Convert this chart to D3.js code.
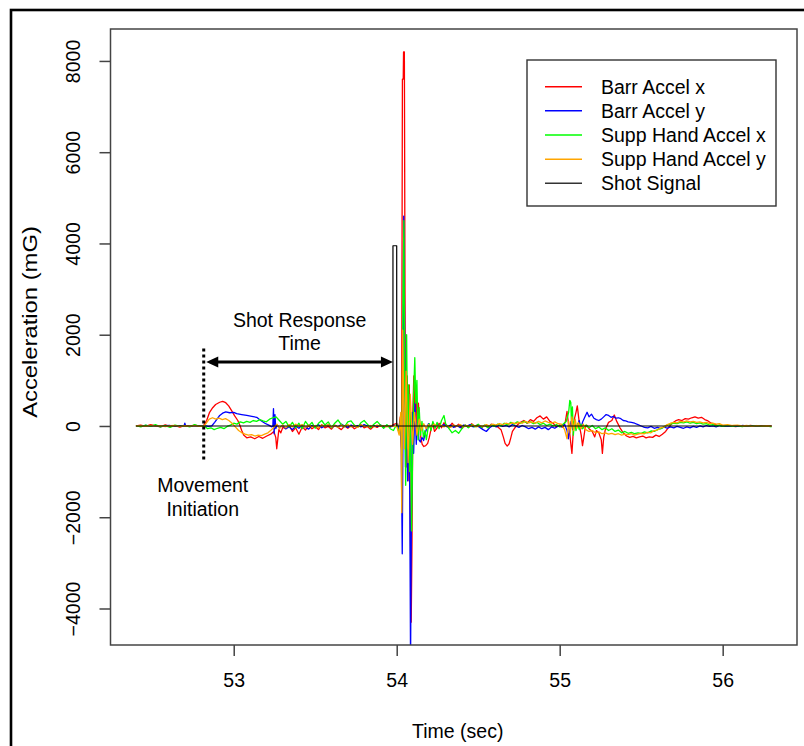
<!DOCTYPE html>
<html>
<head>
<meta charset="utf-8">
<script src="https://cdn.jsdelivr.net/npm/d3@7"></script>
<style>
  html, body { margin: 0; padding: 0; background: #fff; }
  svg { display: block; }
  text { font-family: "Liberation Sans", Arial, sans-serif; fill: #000; }
</style>
</head>
<body>
<svg id="chart" width="804" height="746"></svg>
<script>
// ---- Data: [time (sec), acceleration (mG)] ----
const barrAccelX = [
  [52.40,0],[52.43,20],[52.46,-10],[52.49,30],[52.52,0],[52.55,-20],[52.58,25],[52.61,-15],[52.64,10],[52.67,-25],[52.70,15],[52.73,-10],[52.76,20],[52.79,-5],[52.815,10],
  [52.834,120],[52.852,300],[52.871,400],[52.889,470],[52.914,520],[52.932,540],[52.951,510],[52.969,440],[52.988,330],[53.006,220],[53.025,120],[53.037,20],[53.049,-100],[53.061,-200],[53.080,-260],[53.104,-240],[53.129,-280],[53.154,-230],[53.178,-270],[53.203,-220],[53.227,-180],[53.246,-120],[53.258,-250],[53.264,-500],[53.270,-300],[53.277,-80],[53.289,-150],[53.301,-30],
  [53.32,-60],[53.34,20],[53.36,-120],[53.38,-40],[53.40,-180],[53.42,-20],[53.44,-90],[53.46,10],[53.48,-60],[53.50,-10],[53.52,-80],[53.54,30],[53.56,-40],[53.58,-10],[53.60,-70],[53.62,20],[53.64,-30],[53.66,-80],[53.68,0],[53.70,-50],[53.72,10],[53.74,-60],[53.76,-20],[53.78,30],[53.80,-40],[53.82,-10],[53.84,-70],[53.86,0],[53.88,-30],[53.90,20],[53.92,-40],[53.94,10],[53.96,-20],[53.98,30],[54.00,60],[54.012,-100],
  [54.022,200],[54.030,-500],[54.035,7600],[54.040,7600],[54.042,8200],[54.047,8200],[54.052,1500],[54.058,-900],[54.064,1100],[54.070,-1200],[54.077,900],[54.083,-1800],[54.089,-4300],[54.094,-2500],[54.099,300],[54.105,1100],[54.112,300],[54.119,800],[54.126,-200],[54.133,500],[54.140,100],[54.148,-250],[54.156,-400],[54.166,-450],[54.178,-430],[54.190,-380],[54.200,-250],[54.210,-80],[54.220,50],[54.232,-120],[54.245,-60],[54.26,60],[54.275,-40],[54.29,70],
  [54.30,30],[54.32,-40],[54.34,60],[54.36,-20],[54.38,40],[54.40,-50],[54.42,20],[54.44,-30],[54.46,50],[54.48,-10],[54.50,30],[54.52,-40],[54.54,10],[54.56,-30],[54.58,40],[54.60,0],[54.62,-20],[54.64,-80],[54.655,-250],[54.665,-380],[54.678,-440],[54.69,-390],[54.70,-260],[54.71,-120],[54.725,-40],[54.74,20],[54.76,80],[54.78,120],[54.80,60],[54.82,140],[54.84,100],[54.86,180],[54.88,220],[54.90,150],[54.92,200],[54.94,100],[54.96,60],[54.98,-20],
  [55.00,20],[55.02,-30],[55.035,100],[55.045,320],[55.052,100],[55.060,-100],[55.068,-380],[55.075,-600],[55.082,-200],[55.090,150],[55.100,300],[55.108,440],[55.116,200],[55.124,-50],[55.132,-200],[55.140,-430],[55.148,-250],[55.156,-50],[55.165,20],[55.18,-60],[55.20,-120],[55.215,-240],[55.225,-100],[55.24,-150],[55.255,-300],[55.262,-600],[55.270,-250],[55.28,-80],[55.30,80],[55.32,120],[55.335,240],[55.35,100],[55.37,-40],[55.39,-150],[55.41,-220],[55.43,-250],[55.45,-230],[55.47,-260],[55.49,-240],[55.51,-220],[55.53,-260],[55.55,-240],[55.57,-250],[55.59,-200],[55.61,-230],[55.63,-180],[55.65,-120],[55.67,-20],[55.69,60],[55.71,110],[55.73,140],[55.75,120],[55.77,160],[55.79,150],[55.81,180],[55.83,200],[55.85,170],[55.87,190],[55.89,140],[55.91,110],[55.93,60],[55.95,40],[55.97,10],[55.99,20],
  [56.01,-10],[56.03,10],[56.05,0],[56.08,-15],[56.11,10],[56.14,-10],[56.17,15],[56.20,-5],[56.23,10],[56.26,-10],[56.30,0]
];

const barrAccelY = [
  [52.40,0],[52.43,-10],[52.46,15],[52.49,-5],[52.52,10],[52.55,-15],[52.58,5],[52.61,10],[52.64,-10],[52.67,5],[52.695,0],[52.70,60],[52.705,0],[52.73,-10],[52.76,10],[52.79,-5],[52.82,5],[52.845,-10],[52.865,0],
  [52.883,80],[52.902,170],[52.914,230],[52.932,280],[52.951,310],[52.975,290],[53.000,300],[53.018,270],[53.049,250],[53.080,230],[53.111,210],[53.141,190],[53.166,120],[53.191,60],[53.215,20],[53.234,-20],[53.240,0],[53.244,380],[53.248,-170],[53.253,250],[53.258,-60],[53.265,20],
  [53.28,-40],[53.30,10],[53.32,-60],[53.34,-20],[53.36,-80],[53.38,0],[53.40,-50],[53.42,20],[53.44,-30],[53.46,-70],[53.48,10],[53.50,-20],[53.52,30],[53.54,-40],[53.56,0],[53.58,20],[53.60,-30],[53.62,10],[53.64,-20],[53.66,40],[53.68,0],[53.70,-30],[53.72,20],[53.74,-10],[53.76,10],[53.78,-20],[53.80,30],[53.82,0],[53.84,-20],[53.86,10],[53.88,-10],[53.90,20],[53.92,-10],[53.94,10],[53.96,-20],[53.98,0],[54.00,20],[54.012,-50],
  [54.020,100],[54.028,-500],[54.034,-2800],[54.038,-400],[54.043,4600],[54.048,2500],[54.054,-900],[54.060,500],[54.067,-1200],[54.074,700],[54.080,-1500],[54.085,-5200],[54.090,-2000],[54.096,300],[54.104,-600],[54.112,500],[54.120,-400],[54.128,200],[54.136,-300],[54.145,-350],[54.155,-250],[54.165,-320],[54.175,-150],[54.185,-50],[54.195,50],[54.205,-30],[54.22,20],[54.235,-20],[54.25,30],
  [54.27,-10],[54.29,30],[54.31,-20],[54.33,20],[54.35,-30],[54.37,10],[54.39,-40],[54.41,20],[54.43,-10],[54.45,30],[54.47,-20],[54.49,10],[54.51,-30],[54.53,-80],[54.55,-120],[54.57,-40],[54.59,10],[54.61,-20],[54.63,20],[54.65,-10],[54.67,10],[54.69,-20],[54.71,30],[54.73,0],[54.75,-30],[54.77,10],[54.79,-20],[54.81,-60],[54.83,-30],[54.85,-70],[54.87,-20],[54.89,-60],[54.91,-30],[54.93,-80],[54.95,-20],[54.97,-50],[54.99,0],
  [55.01,-20],[55.03,40],[55.045,-100],[55.053,-280],[55.06,-50],[55.07,100],[55.08,-80],[55.09,60],[55.10,-40],[55.11,20],[55.12,120],[55.13,-60],[55.14,80],[55.155,200],[55.168,300],[55.18,200],[55.195,260],[55.21,170],[55.225,140],[55.24,120],[55.255,150],[55.27,200],[55.285,250],[55.30,230],[55.315,190],[55.33,210],[55.345,170],[55.36,180],[55.375,160],[55.39,120],[55.405,110],[55.42,90],[55.44,80],[55.46,60],[55.48,30],[55.50,0],[55.52,-30],[55.54,-40],[55.56,-10],[55.58,-50],[55.60,-30],[55.62,-60],[55.64,-20],[55.66,-50],[55.68,-20],[55.70,-40],[55.72,-10],[55.74,-30],[55.76,-50],[55.78,-20],[55.80,-40],[55.82,-10],[55.84,-30],[55.86,0],[55.88,-20],[55.90,10],[55.92,-10],[55.94,0],[55.96,-20],[55.98,10],
  [56.00,-10],[56.04,5],[56.08,-10],[56.12,10],[56.16,-5],[56.20,5],[56.24,-10],[56.28,5],[56.30,0]
];

const suppHandAccelX = [
  [52.40,10],[52.43,-20],[52.46,20],[52.49,-10],[52.52,30],[52.55,-20],[52.58,10],[52.61,-30],[52.64,20],[52.67,-10],[52.70,10],[52.73,-20],[52.76,30],[52.79,-10],[52.82,0],
  [52.84,-60],[52.86,-40],[52.88,-80],[52.90,-50],[52.92,-30],[52.94,-60],[52.96,-10],[52.98,20],[53.00,60],[53.02,40],[53.04,90],[53.06,70],[53.08,100],[53.10,80],[53.12,120],[53.14,100],[53.16,140],[53.18,110],[53.20,90],[53.22,150],[53.24,180],[53.26,200],[53.28,120],
  [53.30,40],[53.32,100],[53.34,-20],[53.36,80],[53.38,-40],[53.40,60],[53.42,-60],[53.44,100],[53.46,0],[53.48,80],[53.50,-50],[53.52,60],[53.54,120],[53.56,20],[53.58,90],[53.60,-40],[53.62,60],[53.64,130],[53.66,30],[53.68,-20],[53.70,90],[53.72,110],[53.74,20],[53.76,-30],[53.78,70],[53.80,120],[53.82,40],[53.84,-40],[53.86,40],[53.88,100],[53.90,20],[53.92,-50],[53.94,30],[53.96,-60],[53.98,-100],[54.00,40],[54.015,-150],
  [54.025,200],[54.032,-600],[54.038,2500],[54.044,4500],[54.049,1000],[54.055,-1300],[54.061,2000],[54.067,-500],[54.073,900],[54.079,-1000],[54.085,300],[54.091,-2300],[54.097,-800],[54.104,700],[54.111,1500],[54.117,500],[54.124,1000],[54.131,-300],[54.138,400],[54.146,-200],[54.155,100],[54.164,-250],[54.173,-100],[54.182,-300],[54.191,-80],[54.20,50],[54.21,-100],[54.222,100],[54.235,-50],[54.248,80],[54.26,-60],[54.275,120],[54.29,230],
  [54.30,50],[54.32,-50],[54.34,-150],[54.36,-100],[54.38,-160],[54.40,-60],[54.42,20],[54.44,-40],[54.46,30],[54.48,-20],[54.50,40],[54.52,-30],[54.54,20],[54.56,-40],[54.58,30],[54.60,-10],[54.62,40],[54.64,0],[54.66,60],[54.68,20],[54.70,80],[54.72,40],[54.74,90],[54.76,60],[54.78,100],[54.80,70],[54.82,90],[54.84,50],[54.86,80],[54.88,30],[54.90,60],[54.92,10],[54.94,40],[54.96,0],[54.98,30],
  [55.00,-20],[55.02,40],[55.04,100],[55.055,300],[55.062,560],[55.068,520],[55.072,100],[55.078,420],[55.084,-200],[55.09,100],[55.10,-100],[55.11,50],[55.12,-80],[55.13,40],[55.14,-60],[55.16,20],[55.18,-40],[55.20,10],[55.22,-60],[55.24,-20],[55.26,-80],[55.28,-40],[55.30,-100],[55.32,-60],[55.34,-120],[55.36,-90],[55.38,-150],[55.40,-120],[55.42,-160],[55.44,-140],[55.46,-170],[55.48,-150],[55.50,-160],[55.52,-130],[55.54,-150],[55.56,-110],[55.58,-120],[55.60,-80],[55.62,-60],[55.64,-20],[55.66,20],[55.68,40],[55.70,60],[55.72,50],[55.74,80],[55.76,70],[55.78,90],[55.80,60],[55.82,80],[55.84,50],[55.86,70],[55.88,40],[55.90,50],[55.92,20],[55.94,30],[55.96,0],[55.98,20],
  [56.00,-10],[56.03,15],[56.06,-10],[56.09,10],[56.12,-15],[56.15,10],[56.18,-5],[56.21,10],[56.24,-10],[56.27,5],[56.30,-20]
];

const suppHandAccelY = [
  [52.40,0],[52.43,10],[52.46,-10],[52.49,15],[52.52,-5],[52.55,10],[52.58,-15],[52.61,5],[52.64,10],[52.67,-10],[52.70,5],[52.73,-5],[52.76,10],[52.79,-10],[52.82,0],
  [52.835,80],[52.85,150],[52.87,180],[52.89,150],[52.91,170],[52.93,140],[52.95,160],[52.97,120],[52.99,60],[53.01,-20],[53.03,-100],[53.05,-150],[53.07,-180],[53.09,-200],[53.11,-190],[53.13,-220],[53.15,-200],[53.17,-210],[53.19,-180],[53.21,-150],[53.23,-90],[53.25,-20],[53.265,40],[53.28,-60],
  [53.30,20],[53.32,-40],[53.34,30],[53.36,-20],[53.38,40],[53.40,-10],[53.42,30],[53.44,-30],[53.46,20],[53.48,-20],[53.50,10],[53.52,-40],[53.54,20],[53.56,-10],[53.58,30],[53.60,-20],[53.62,10],[53.64,-30],[53.66,20],[53.68,-10],[53.70,30],[53.72,-20],[53.74,10],[53.76,-30],[53.78,20],[53.80,0],[53.82,-20],[53.84,10],[53.86,-20],[53.88,20],[53.90,-10],[53.92,10],[53.94,-20],[53.96,10],[53.98,-10],[54.00,0],[54.015,-200],
  [54.025,300],[54.031,-1900],[54.037,2100],[54.047,-500],[54.058,1200],[54.070,-800],[54.083,700],[54.097,-400],[54.110,300],[54.124,-200],[54.138,150],[54.152,-100],[54.166,50],[54.18,-60],[54.195,30],[54.21,-20],[54.23,40],[54.25,-10],[54.27,20],[54.29,-20],
  [54.31,10],[54.33,-30],[54.35,20],[54.37,-10],[54.39,30],[54.41,-20],[54.43,10],[54.45,-10],[54.47,20],[54.49,-20],[54.51,10],[54.53,-10],[54.55,30],[54.57,0],[54.59,40],[54.61,20],[54.63,50],[54.65,30],[54.67,60],[54.69,40],[54.71,70],[54.73,50],[54.75,80],[54.77,60],[54.79,100],[54.81,70],[54.83,90],[54.85,60],[54.87,100],[54.89,70],[54.91,110],[54.93,80],[54.95,60],[54.97,90],[54.99,50],
  [55.01,40],[55.03,-80],[55.045,-280],[55.055,100],[55.065,-150],[55.075,200],[55.085,-100],[55.095,150],[55.105,-50],[55.115,80],[55.13,-60],[55.145,40],[55.16,-80],[55.18,-120],[55.20,-100],[55.22,-150],[55.24,-130],[55.26,-170],[55.28,-150],[55.30,-180],[55.32,-160],[55.34,-190],[55.36,-170],[55.38,-200],[55.40,-180],[55.42,-190],[55.44,-170],[55.46,-200],[55.48,-180],[55.50,-160],[55.52,-170],[55.54,-140],[55.56,-150],[55.58,-100],[55.60,-90],[55.62,-40],[55.64,-20],[55.66,30],[55.68,60],[55.70,80],[55.72,70],[55.74,100],[55.76,90],[55.78,110],[55.80,90],[55.82,100],[55.84,80],[55.86,90],[55.88,70],[55.90,80],[55.92,50],[55.94,60],[55.96,40],[55.98,50],
  [56.00,20],[56.03,30],[56.06,10],[56.09,20],[56.12,0],[56.15,10],[56.18,-10],[56.21,10],[56.24,-5],[56.27,5],[56.30,0]
];

// Trigger pulse recorded by the shot sensor
const shotSignal = [[52.40,0],[53.977,0],[53.977,3950],[54.000,3950],[54.000,0],[56.30,0]];

const seriesNames  = ["Barr Accel x", "Barr Accel y", "Supp Hand Accel x", "Supp Hand Accel y", "Shot Signal"];
const seriesData   = [barrAccelX, barrAccelY, suppHandAccelX, suppHandAccelY, shotSignal];
const seriesColors = ["#ff0000", "#0000ff", "#00ff00", "#ffa500", "#000000"];

const xTicks = [53, 54, 55, 56];
const yTicks = [-4000, -2000, 0, 2000, 4000, 6000, 8000];

// Annotation times / levels
const movementTime = 52.816;   // movement initiation
const shotTime = 53.977;       // shot signal onset
const arrowLevel = 1400;
const dotTop = 1700, dotBottom = -750;

// ---- Layout ----
const W = 804, H = 746;
const plot = { left: 110.5, right: 797, top: 29, bottom: 645 };
const fontR = 19.5;

const svg = d3.select("#chart");

// Frame around the whole figure
svg.append("rect")
  .attr("x", 11).attr("y", 10).attr("width", W + 20).attr("height", H + 20)
  .attr("fill", "none").attr("stroke", "#000").attr("stroke-width", 2.6);

// Axis ranges padded by 4%, x from all samples, y from the first plotted series
const pad4 = e => { const r = e[1] - e[0]; return [e[0] - 0.04 * r, e[1] + 0.04 * r]; };
const tExtent = d3.extent(seriesData.flat(), d => d[0]);
const x = d3.scaleLinear().domain(pad4(tExtent)).range([plot.left, plot.right]);
const y = d3.scaleLinear().domain(pad4(d3.extent(barrAccelX, d => d[1]))).range([plot.bottom, plot.top]);

svg.append("clipPath").attr("id", "plotClip")
  .append("rect")
  .attr("x", plot.left).attr("y", plot.top)
  .attr("width", plot.right - plot.left).attr("height", plot.bottom - plot.top);

const line = d3.line().x(d => x(d[0])).y(d => y(d[1]));

const traces = svg.append("g").attr("clip-path", "url(#plotClip)");
seriesData.forEach((data, i) => {
  traces.append("path")
    .datum(data)
    .attr("d", line)
    .attr("fill", "none")
    .attr("stroke", seriesColors[i])
    .attr("stroke-width", i === 4 ? 1.2 : 1.3)
    .attr("stroke-linejoin", "round");
});

// Plot box
svg.append("rect")
  .attr("x", plot.left).attr("y", plot.top)
  .attr("width", plot.right - plot.left).attr("height", plot.bottom - plot.top)
  .attr("fill", "none").attr("stroke", "#444").attr("stroke-width", 1.5);

// X axis
const xAxis = svg.append("g")
  .attr("transform", `translate(0,${plot.bottom})`)
  .call(d3.axisBottom(x).tickValues(xTicks).tickSize(11).tickPadding(17).tickFormat(d3.format("d")));
xAxis.select(".domain").remove();
xAxis.selectAll(".tick line").attr("stroke", "#444").attr("stroke-width", 1.5);
xAxis.selectAll(".tick text")
  .attr("font-family", "Liberation Sans, Arial, sans-serif")
  .attr("font-size", fontR).attr("fill", "#000");

// Y axis, labels parallel to the axis
const yAxis = svg.append("g")
  .attr("transform", `translate(${plot.left},0)`)
  .call(d3.axisLeft(y).tickValues(yTicks).tickSize(11).tickFormat(d3.format("d")));
yAxis.select(".domain").remove();
yAxis.selectAll(".tick line").attr("stroke", "#444").attr("stroke-width", 1.5);
yAxis.selectAll(".tick text")
  .attr("font-family", "Liberation Sans, Arial, sans-serif")
  .attr("font-size", fontR).attr("fill", "#000")
  .attr("text-anchor", "middle")
  .attr("x", 0).attr("y", -(37.5 - 0.36 * fontR)).attr("dy", null)
  .attr("transform", "rotate(-90)");

// Axis titles
svg.append("text")
  .attr("x", (plot.left + plot.right) / 2 + 4).attr("y", 731 + 0.36 * fontR)
  .attr("text-anchor", "middle").attr("font-size", fontR)
  .text("Time (sec)");
svg.append("text")
  .attr("transform", `translate(${30 + 0.36 * fontR},322) scale(1,1.22) rotate(-90)`)
  .attr("text-anchor", "middle").attr("font-size", fontR)
  .text("Acceleration (mG)");

// Legend
const legend = { x: 527, y: 60, w: 249, h: 146, row0: 86.7, rowStep: 24.15 };
svg.append("rect")
  .attr("x", legend.x).attr("y", legend.y).attr("width", legend.w).attr("height", legend.h)
  .attr("fill", "#fff").attr("stroke", "#333").attr("stroke-width", 1.4);
seriesNames.forEach((name, i) => {
  const ry = legend.row0 + i * legend.rowStep;
  svg.append("line")
    .attr("x1", 545).attr("x2", 582).attr("y1", ry).attr("y2", ry)
    .attr("stroke", i === 4 ? "#333" : seriesColors[i]).attr("stroke-width", 1.5);
  svg.append("text")
    .attr("x", 601).attr("y", ry + 0.36 * fontR)
    .attr("font-size", fontR).text(name);
});

// Movement initiation marker
const annot = svg.append("g");
annot.append("line")
  .attr("x1", x(movementTime)).attr("x2", x(movementTime))
  .attr("y1", y(dotTop)).attr("y2", y(dotBottom))
  .attr("stroke", "#000").attr("stroke-width", 3).attr("stroke-dasharray", "3,3");

// Double-headed arrow between movement initiation and the shot
const ax1 = x(movementTime) + 2.5, ax2 = x(shotTime), ay = y(arrowLevel);
const headL = 12, headH = 5.5;
annot.append("line")
  .attr("x1", ax1 + headL - 1).attr("x2", ax2 - headL + 1)
  .attr("y1", ay).attr("y2", ay)
  .attr("stroke", "#000").attr("stroke-width", 3);
annot.append("path")
  .attr("d", `M${ax1},${ay} L${ax1 + headL},${ay - headH} L${ax1 + headL},${ay + headH} Z`)
  .attr("fill", "#000");
annot.append("path")
  .attr("d", `M${ax2},${ay} L${ax2 - headL},${ay - headH} L${ax2 - headL},${ay + headH} Z`)
  .attr("fill", "#000");

const fontA = 19.5;
const midX = (ax1 + ax2) / 2;
annot.append("text").attr("x", midX).attr("y", ay - 42 + 0.36 * fontA)
  .attr("text-anchor", "middle").attr("font-size", fontA).text("Shot Response");
annot.append("text").attr("x", midX).attr("y", ay - 19 + 0.36 * fontA)
  .attr("text-anchor", "middle").attr("font-size", fontA).text("Time");
annot.append("text").attr("x", x(movementTime) - 1).attr("y", y(dotBottom) + 25 + 0.36 * fontA)
  .attr("text-anchor", "middle").attr("font-size", fontA).text("Movement");
annot.append("text").attr("x", x(movementTime) - 1).attr("y", y(dotBottom) + 49 + 0.36 * fontA)
  .attr("text-anchor", "middle").attr("font-size", fontA).text("Initiation");
</script>
</body>
</html>
